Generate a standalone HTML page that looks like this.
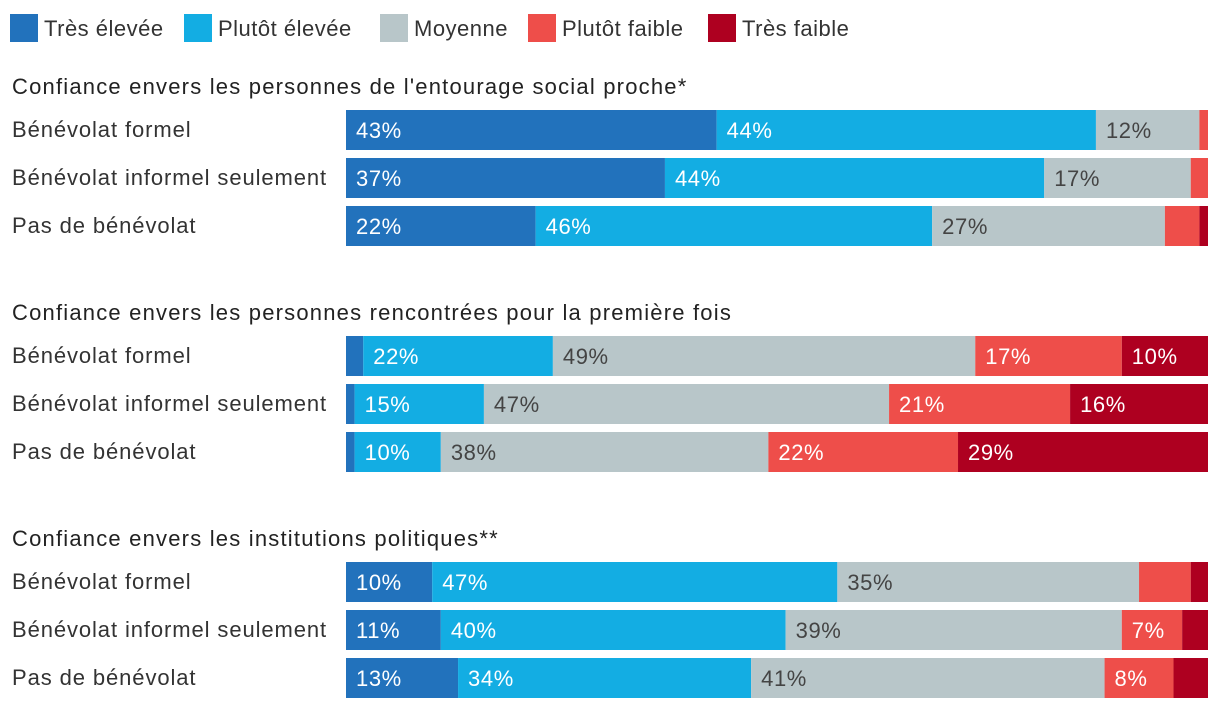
<!DOCTYPE html>
<html><head><meta charset="utf-8">
<style>
body{margin:0;background:#fff;font-family:"Liberation Sans",sans-serif;}
#c{position:relative;width:1220px;height:708px;overflow:hidden}
</style></head>
<body>
<div id="c">
<svg id="svg" width="1220" height="708" xmlns="http://www.w3.org/2000/svg"></svg>
</div>
<script>
const categories = ["Très élevée","Plutôt élevée","Moyenne","Plutôt faible","Très faible"];
const groupTitles = ["Confiance envers les personnes de l'entourage social proche*","Confiance envers les personnes rencontrées pour la première fois","Confiance envers les institutions politiques**"];
const rowLabels = ["Bénévolat formel","Bénévolat informel seulement","Pas de bénévolat"];
const g1Values = [[43,44,12,1,0],[37,44,17,2,0],[22,46,27,4,1]];
const g2Values = [[2,22,49,17,10],[1,15,47,21,16],[1,10,38,22,29]];
const g3Values = [[10,47,35,6,2],[11,40,39,7,3],[13,34,41,8,4]];
const groups = [g1Values,g2Values,g3Values];
const colors = ["#2272bc","#13ade3","#b8c6c9","#ee4e4a","#ae0020"];
const textColors = ["#fff","#fff","#444","#fff","#fff"];
const NS="http://www.w3.org/2000/svg";
const svg=document.getElementById('svg');
const x0=346, W=862;
const xs=v=>x0+v/100*W;
function mk(tag,attrs,parent){const e=document.createElementNS(NS,tag);for(const k in attrs)e.setAttribute(k,attrs[k]);(parent||svg).appendChild(e);return e;}
const legX=[10,184,380,528,708];
categories.forEach((c,i)=>{
  const g=mk('g',{});
  
  
  mk('rect',{x:legX[i],y:14,width:28,height:28,fill:colors[i]},g);
  const t=mk('text',{x:legX[i]+34,y:36,'font-size':22,fill:'#333','letter-spacing':0.5},g);t.textContent=c;
});
const groupY=[110,336,562];
groups.forEach((vals,gi)=>{
  const gy=groupY[gi];
  const tt=mk('text',{x:12,y:gy-16,'font-size':22,fill:'#222','letter-spacing':1.2});
  
  
  tt.textContent=groupTitles[gi];
  vals.forEach((row,ri)=>{
    const y=gy+ri*48;
    const lt=mk('text',{x:12,y:y+27,'font-size':22,fill:'#333','letter-spacing':0.9});
    
    
    lt.textContent=rowLabels[ri];
    const tot=row.reduce((a,b)=>a+b,0);
    let cum=0;
    row.forEach((v,si)=>{
      const a=xs(cum/tot*100), b=xs((cum+v)/tot*100);
      cum+=v;
      if(v<=0)return;
      const r=mk('rect',{x:a,y:y,width:b-a,height:40,fill:colors[si]});
      
      
      if(v>=7){
        const t=mk('text',{x:a+10,y:y+28,'font-size':22,fill:textColors[si],'letter-spacing':0.6});
        
        
        t.textContent=v+'%';
      }
    });
  });
});
</script>
</body></html>
